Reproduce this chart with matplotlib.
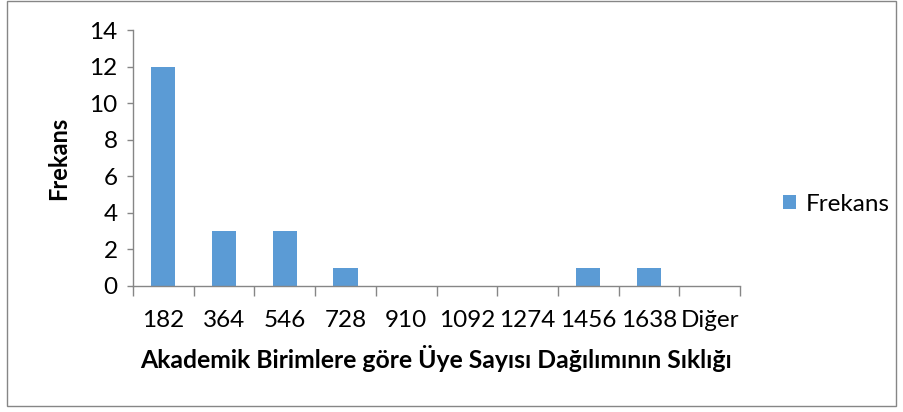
import numpy as np
import matplotlib
matplotlib.use("Agg")
import matplotlib.pyplot as plt
from matplotlib.patches import Rectangle

# ── Data ──────────────────────────────────────────────────────────────────────
bins = ["182", "364", "546", "728", "910", "1092", "1274", "1456", "1638", "Diğer"]
frekans = [12, 3, 3, 1, 0, 0, 0, 1, 1, 0]

BAR = "#5B9BD5"
AXIS = "#868686"
plt.rcParams["font.family"] = ["Lato", "DejaVu Sans"]
FS = 17.5

fig = plt.figure(figsize=(9.04, 4.12), dpi=100, facecolor="white")
ax = fig.add_axes([133 / 904, 1 - 286 / 412, (740 - 133) / 904, (286 - 30) / 412])

x = np.arange(len(bins))
ax.bar(x, frekans, width=0.4, color=BAR, label="Frekans", zorder=2)

ax.set_xlim(-0.5, len(bins) - 0.5)
ax.set_ylim(0, 14)
ax.set_yticks(range(0, 15, 2))
ax.set_xticks(x)
ax.set_xticklabels(bins)
ax.set_xticks(np.arange(-0.5, len(bins), 1), minor=True)

for s in ["top", "right"]:
    ax.spines[s].set_visible(False)
for s in ["left", "bottom"]:
    ax.spines[s].set_color(AXIS)
    ax.spines[s].set_linewidth(1)

ax.tick_params(axis="x", which="major", length=0, pad=17, labelsize=FS, colors="black")
ax.tick_params(axis="x", which="minor", length=7.5, width=1, color=AXIS)
ax.tick_params(axis="y", length=4, width=1, color=AXIS, pad=7, labelsize=FS)

ax.set_xlabel("Akademik Birimlere göre Üye Sayısı Dağılımının Sıklığı",
              fontsize=FS + 0.3, fontweight="bold", labelpad=10)
ax.set_ylabel("Frekans", fontsize=FS - 0.5, fontweight="bold", labelpad=14)

ax.legend(loc="center left", bbox_to_anchor=(1.035, 0.32), frameon=False,
          fontsize=FS, handlelength=0.55, handleheight=0.55, handletextpad=0.4)

# outer chart border
fig.patches.append(Rectangle((7 / 904, 1 - 406 / 412), 889 / 904, 405 / 412,
                             transform=fig.transFigure, fill=False,
                             edgecolor=AXIS, linewidth=1))

fig.savefig("out.png", dpi=100)
